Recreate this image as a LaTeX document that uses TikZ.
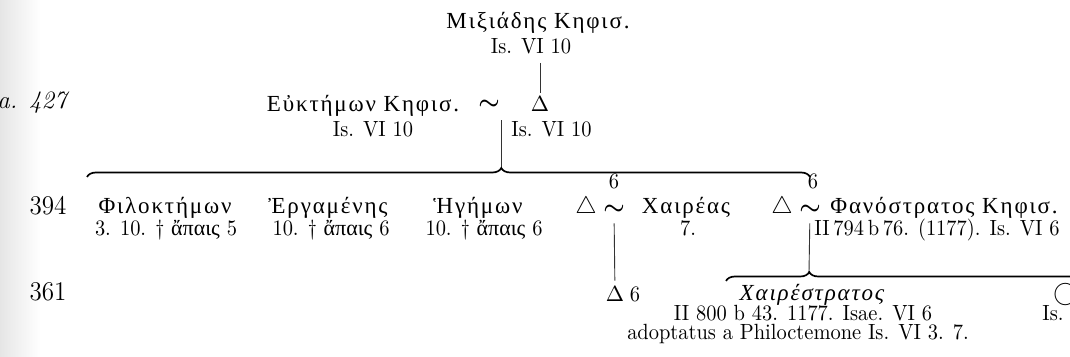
\documentclass[tikz,border=0pt]{standalone}
\usepackage{fontspec}
\usepackage{amsmath}
\newfontfamily\grkfont[LetterSpace=8]{Liberation Serif}
\newfontfamily\grkplain{Liberation Serif}
\newfontfamily\reffont{Latin Modern Roman}[FakeStretch=0.93]
\newcommand\grkap{{\grkplain ἄπαις}}
\usetikzlibrary{decorations.pathreplacing,positioning}

\begin{document}
\begin{tikzpicture}[x=0.5pt,y=-0.5pt,
  person/.style={anchor=base,inner sep=0pt,font={\fontsize{11.5}{13}\grkfont}},
  ref/.style={anchor=base,inner sep=0pt,font={\fontsize{11}{13}\reffont}},
  yr/.style={anchor=base,inner sep=0pt,font={\fontsize{13.5}{15}\reffont}},
  sym/.style={anchor=base,inner sep=0pt,font={\fontsize{11}{13}\selectfont}},
  tie/.style={anchor=base,inner sep=0pt,font=\large},
  stem/.style={black!80,line width=0.45pt},
  bracket/.style={line width=0.85pt,decorate,decoration={brace,amplitude=4.5pt,aspect=#1}}]
  \useasboundingbox (0,0) rectangle (1070,357);
  \clip (0,0) rectangle (1070,357);
  \shade[left color=black!10,right color=white] (0,0) rectangle (40,357);

  \node[person] (mix) at (538,29) {Μιξιάδης Κηφισ.};
  \node[ref] (mixref) at (531,54) {Is. VI 10};

  \node[yr,anchor=base west,font={\fontsize{12.5}{14}\itshape}] (date427) at (-3,109) {a. 427};
  \node[person] (euk) at (363,112) {Εὐκτήμων Κηφισ.};
  \node[ref] (eukref) at (373,137) {Is. VI 10};
  \node[tie] (tie1) at (489,110) {$\boldsymbol{\sim}$};
  \node[sym] (wife1) at (540,112) {$\Delta$};
  \node[ref,anchor=base west] (wiferef) at (511,137) {Is. VI 10};
  \coordinate (br1w) at (87,177);
  \coordinate (br1e) at (810,177);
  \coordinate (br1n) at (501,168);

  \node[yr] (y394) at (48,215) {394};
  \node[person] (phil) at (165,214) {Φιλοκτήμων};
  \node[ref] (philref) at (166,236) {3. 10. † \grkap\ 5};
  \node[person] (erg) at (328,214) {Ἐργαμένης};
  \node[ref] (ergref) at (331,236) {10. † \grkap\ 6};
  \node[person] (heg) at (478,214) {Ἡγήμων};
  \node[ref] (hegref) at (484,236) {10. † \grkap\ 6};
  \node[tie] (dau1) at (586,214) {$\triangle$};
  \node[tie] (tie2) at (614,215) {$\boldsymbol{\sim}$};
  \node[ref] (tie2n) at (614,189) {6};
  \node[person] (chai) at (686,214) {Χαιρέας};
  \node[ref] (chairef) at (688,236) {7.};
  \node[tie] (dau2) at (782,214) {$\triangle$};
  \node[tie] (tie3) at (810,215) {$\boldsymbol{\sim}$};
  \node[ref] (tie3n) at (813,189) {6};
  \node[person,anchor=base west] (phan) at (830,214) {Φανόστρατος Κηφισ.};
  \node[ref,anchor=base west] (phanref) at (814,236) {II\,794\,b\,76. (1177). Is. VI 6};
  \coordinate (br2w) at (726,281);
  \coordinate (br2e) at (1300,281);
  \coordinate (br2n) at (809,272);

  \node[yr] (y361) at (48,301) {361};
  \node[sym] (son) at (615,302) {$\Delta$};
  \node[ref,anchor=base west] (sonref) at ([xshift=2.5pt]son.base east) {6};
  \node[person,font={\fontsize{11.5}{13}\grkfont\itshape}] (chst) at (812,301) {Χαιρέστρατος};
  \node[ref] (chstref) at (803,321) {II 800 b 43. 1177. Isae. VI 6};
  \node[ref] (chstadopt) at (798,340) {adoptatus a Philoctemone Is. VI 3. 7.};
  \node[tie,anchor=base west] (last) at (1053,301) {$\bigcirc$};
  \node[ref,anchor=base west] (lastref) at (1042,321) {Is. V};

  \draw[stem,shorten <=4pt,shorten >=2pt] (mixref.south -| wife1) -- (wife1.north);
  \draw[stem,shorten <=5pt] (tie1.south -| br1n) -- (br1n);
  \draw[bracket=0.573] (br1w) -- (br1e);
  \draw[stem,shorten <=4pt,shorten >=3pt] (tie2) -- (son);
  \draw[stem,shorten <=4pt] (tie3) -- (br2n);
  \draw[bracket=0.145] (br2w) -- (br2e);
\end{tikzpicture}
\end{document}
